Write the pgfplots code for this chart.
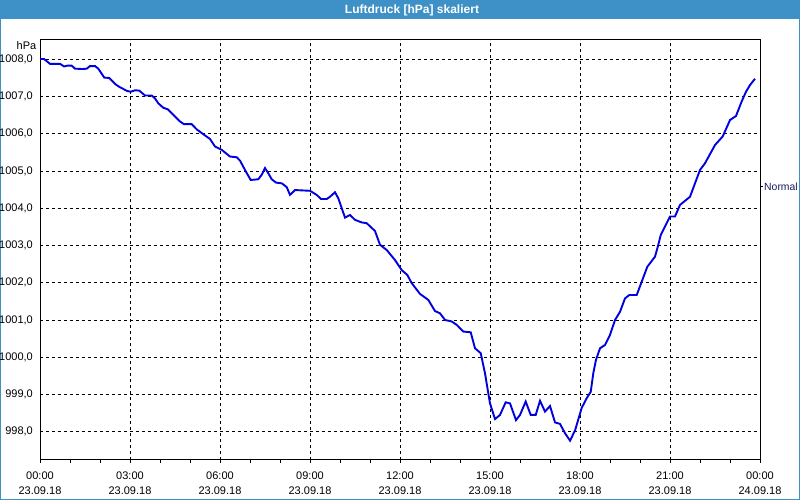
\documentclass[border=0pt]{standalone}
\usepackage{pgfplots}
\pgfplotsset{compat=1.18}
\usepackage{fontspec}
\setmainfont{Liberation Sans}
\definecolor{titleblue}{RGB}{61,145,198}
\definecolor{lineblue}{RGB}{0,0,225}
\definecolor{navytext}{RGB}{25,25,100}
\begin{document}
\begin{tikzpicture}
\fill[white] (0pt,0pt) rectangle (800pt,500pt);
\useasboundingbox (0pt,0pt) rectangle (800pt,500pt);
\fill[titleblue] (0pt,480.5pt) rectangle (800pt,500pt);
\draw[titleblue, line width=2pt] (0pt,0pt) rectangle (800pt,500pt);
\node[text=white, font=\bfseries\fontsize{12}{14}\selectfont] at (412pt,490pt) {Luftdruck [hPa] skaliert};
\node[anchor=east, inner sep=0pt, font=\fontsize{11}{13}\selectfont] at (36.5pt,454pt) {hPa};
\draw[black, line width=1pt] (760pt,313pt) -- (763pt,313pt);
\node[anchor=west, inner sep=0pt, text=navytext, font=\fontsize{10.4}{13}\selectfont] at (764pt,313pt) {Normal};
\begin{axis}[
  at={(40pt,40pt)}, anchor=south west,
  scale only axis, width=720pt, height=420pt,
  xmin=0, xmax=24, ymin=997.24, ymax=1008.52,
  axis line style={line width=1pt, black},
  xtick={0,3,...,24},
  xticklabels={{00:00\\23.09.18},{03:00\\23.09.18},{06:00\\23.09.18},{09:00\\23.09.18},{12:00\\23.09.18},{15:00\\23.09.18},{18:00\\23.09.18},{21:00\\23.09.18},{00:00\\24.09.18}},
  minor xtick={1,2,4,5,7,8,10,11,13,14,16,17,19,20,22,23},
  xtick pos=bottom, tick align=outside,
  major tick length=3pt, minor tick length=3pt,
  xtick style={line width=1pt, black},
  ytick={998,999,...,1008},
  ytick pos=left,
  ytick style={draw=none},
  /pgf/number format/use comma,
  /pgf/number format/fixed,
  /pgf/number format/fixed zerofill,
  /pgf/number format/precision=1,
  /pgf/number format/1000 sep={},
  /pgf/number format/assume math mode=true,
  yticklabel style={font=\fontsize{11}{13}\selectfont, inner sep=0pt, xshift=-4pt},
  xticklabel style={align=center, font=\fontsize{11}{15}\selectfont, inner sep=0pt, yshift=-8.5pt},
  grid=major,
  major grid style={black, line width=0.8pt, dash pattern=on 3pt off 3pt},
]
\addplot[lineblue, line width=1.9pt] table {
x y
0.000 1008.01
0.133 1008.01
0.333 1007.88
0.667 1007.88
0.800 1007.81
0.910 1007.83
1.057 1007.83
1.167 1007.75
1.423 1007.74
1.557 1007.75
1.667 1007.82
1.833 1007.82
1.943 1007.75
2.143 1007.51
2.310 1007.50
2.533 1007.32
2.667 1007.25
2.910 1007.15
3.023 1007.13
3.167 1007.17
3.310 1007.16
3.500 1007.03
3.723 1007.03
3.833 1006.95
3.943 1006.82
4.110 1006.70
4.257 1006.66
4.443 1006.51
4.667 1006.33
4.800 1006.26
5.057 1006.26
5.223 1006.12
5.443 1005.99
5.667 1005.86
5.833 1005.66
6.057 1005.57
6.333 1005.39
6.557 1005.37
6.667 1005.28
6.833 1005.03
7.023 1004.76
7.277 1004.78
7.390 1004.90
7.500 1005.08
7.610 1004.94
7.723 1004.78
7.867 1004.69
8.057 1004.67
8.223 1004.57
8.333 1004.36
8.500 1004.49
9.000 1004.47
9.223 1004.36
9.367 1004.25
9.557 1004.25
9.667 1004.31
9.833 1004.43
9.943 1004.27
10.167 1003.75
10.333 1003.82
10.500 1003.69
10.723 1003.62
10.890 1003.60
11.167 1003.39
11.333 1003.02
11.557 1002.88
11.833 1002.61
12.057 1002.34
12.243 1002.21
12.390 1001.99
12.667 1001.70
12.943 1001.54
13.167 1001.24
13.333 1001.18
13.500 1001.00
13.723 1000.96
13.890 1000.87
14.110 1000.69
14.357 1000.67
14.500 1000.24
14.690 1000.11
14.833 999.57
15.000 998.76
15.167 998.34
15.333 998.45
15.523 998.79
15.667 998.76
15.867 998.31
16.000 998.45
16.190 998.81
16.357 998.45
16.523 998.45
16.667 998.83
16.833 998.54
17.000 998.69
17.167 998.25
17.333 998.21
17.500 997.96
17.667 997.76
17.833 998.03
18.057 998.64
18.223 998.90
18.357 999.07
18.443 999.57
18.533 999.93
18.667 1000.24
18.833 1000.33
19.000 1000.60
19.167 1001.00
19.333 1001.22
19.500 1001.58
19.643 1001.67
19.890 1001.67
20.057 1002.03
20.243 1002.43
20.500 1002.70
20.610 1003.02
20.690 1003.28
20.890 1003.60
21.000 1003.78
21.167 1003.78
21.333 1004.09
21.667 1004.31
21.833 1004.67
22.000 1005.03
22.167 1005.21
22.500 1005.70
22.757 1005.93
23.000 1006.37
23.200 1006.48
23.390 1006.87
23.533 1007.13
23.667 1007.31
23.833 1007.48
};
\end{axis}
\end{tikzpicture}
\end{document}
